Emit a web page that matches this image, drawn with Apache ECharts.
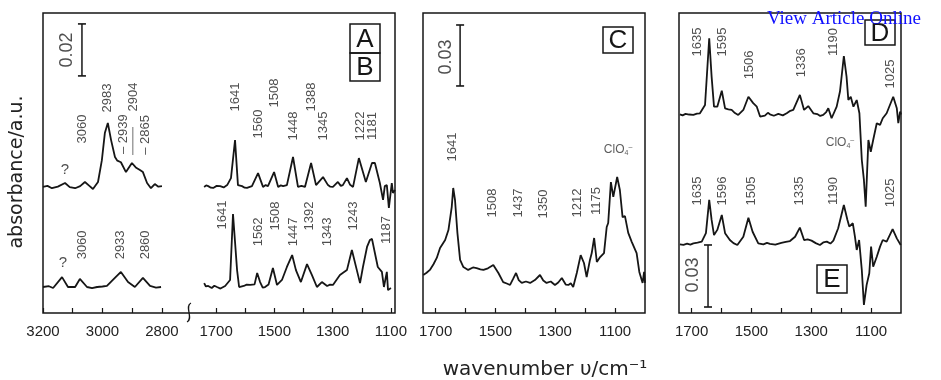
<!DOCTYPE html>
<html>
<head>
<meta charset="utf-8">
<script src="https://cdn.jsdelivr.net/npm/echarts@6/dist/echarts.min.js"></script>
<style>
html, body { margin: 0; padding: 0; background: #fff; }
#main { width: 941px; height: 380px; }
</style>
</head>
<body>
<div id="main"></div>
<script>
// spectra: [wavenumber / cm-1, absorbance / mA]
var specA_ch = [[3200,48.5],[3185,48.9],[3170,48],[3150,48.6],[3126,50],[3110,48.4],[3092,48],[3075,48.8],[3059,50.4],[3045,49],[3032,47.7],[3015,50.4],[3002,58.8],[2992,69.2],[2982,73.1],[2971,66.5],[2958,60],[2950,58.6],[2938,58],[2921,54.2],[2901,57.7],[2888,56],[2874,55],[2864,54.2],[2850,50],[2837,48],[2824,49.6],[2812,48.6],[2800,48.8]];
var specA_fp = [[1741,48.5],[1734,49.1],[1727,48.8],[1718,48.2],[1710,48.1],[1698,48.9],[1686,48.8],[1674,48.3],[1662,49.2],[1649,51.9],[1635,66.5],[1625,49.2],[1611,48.8],[1602,48.2],[1594,48.1],[1577,48.8],[1556,53.8],[1539,48.5],[1530,49.2],[1522,48.8],[1501,54.2],[1487,48.5],[1478,49.1],[1470,48.8],[1457,49.2],[1436,60],[1419,48.5],[1407,48.9],[1395,48.5],[1374,57.7],[1357,49.2],[1333,52.3],[1316,49.2],[1308,48.6],[1299,48.5],[1282,50.4],[1272,48.9],[1265,49.2],[1251,51.9],[1240,49.3],[1230,48.5],[1210,59.6],[1186,50.4],[1165,57.7],[1155,57.7],[1138,50],[1127,43.5],[1121,48.8],[1114,49.2],[1107,40.4],[1097,50],[1093,46.2],[1086,47.3]];
var specB_ch = [[3200,10],[3180,10.3],[3166,9.6],[3136,13.8],[3116,10],[3092,10],[3076,13.1],[3052,10],[3035,9.6],[3018,10],[3000,10.2],[2985,10.4],[2965,12.7],[2938,15.8],[2914,11.9],[2891,10],[2864,13.5],[2840,10.4],[2820,9.8],[2803,10]];
var specB_fp = [[1741,11.5],[1735,10.2],[1727,10.4],[1715,9.6],[1706,10.5],[1697,10],[1685,9.4],[1669,10.4],[1652,12.7],[1642,38.1],[1628,16.5],[1621,10],[1605,10.4],[1595,10.9],[1583,10.8],[1568,11],[1559,15.4],[1549,11.9],[1540,9.8],[1532,10],[1520,11],[1505,17.3],[1491,10.8],[1474,12.7],[1457,17.7],[1439,22.3],[1426,16.5],[1409,11.9],[1388,18.8],[1371,14.6],[1354,10],[1337,11.9],[1319,10.4],[1309,10.9],[1299,10.8],[1275,14.6],[1251,16.5],[1234,24.2],[1217,16.5],[1206,11.5],[1196,17.7],[1182,25.4],[1172,28.1],[1165,28.5],[1155,23.1],[1145,17.7],[1131,15.8],[1124,10],[1114,15.8],[1110,8.8],[1100,9.6]];
var specC = [[1741,18.7],[1730,19.8],[1719,21.2],[1707,24],[1696,27.1],[1685,32],[1668,35.9],[1657,40.8],[1646,52.1],[1641,61.5],[1635,55.6],[1627,39.4],[1618,26.1],[1607,22.6],[1591,21.2],[1575,22.4],[1563,22.1],[1550,21.5],[1540,21.2],[1525,22],[1507,23.6],[1490,19.7],[1474,15.2],[1462,14.5],[1451,13.8],[1440,17],[1431,19.7],[1422,16.2],[1412,14.8],[1398,15.5],[1384,14.8],[1368,16.2],[1351,18.7],[1340,16],[1329,14.8],[1315,15.5],[1301,13.8],[1290,15],[1278,17.2],[1265,14],[1256,13.8],[1248,14.6],[1240,12.8],[1228,19.7],[1215,28.5],[1204,24.6],[1195,17.7],[1184,26.1],[1178,29.5],[1170,36.9],[1161,25.1],[1150,27.5],[1137,29.5],[1128,42.3],[1123,44.3],[1114,64.4],[1106,57.1],[1093,66.9],[1084,60.5],[1075,47.2],[1067,47.7],[1056,39.4],[1044,34.9],[1028,29.5],[1019,20.2],[1008,14.8],[1003,20.2],[1000,14.8]];
var specD = [[1739,96.1],[1730,95.6],[1720,96.3],[1708,96],[1694,95.8],[1682,96.4],[1672,96.6],[1655,100.6],[1641,132.9],[1633,114.3],[1625,99.8],[1614,99.8],[1599,107.5],[1588,99],[1577,98.5],[1566,98.2],[1555,96.7],[1544,95.8],[1527,98.2],[1510,104.6],[1494,101.5],[1482,99.8],[1471,95],[1455,95.5],[1445,96.8],[1438,96.1],[1425,95.4],[1410,96.3],[1395,95.6],[1382,96.6],[1370,97.8],[1360,98.2],[1338,105.5],[1324,98.2],[1310,100.1],[1293,96.6],[1280,96.2],[1270,95.3],[1260,95.8],[1250,97.2],[1243,99],[1232,94.2],[1215,99.8],[1204,107.1],[1191,124.3],[1182,114.3],[1176,103],[1168,104.6],[1159,99.8],[1148,103],[1139,96.6],[1131,74],[1124,64.4],[1118,51.4],[1109,83.7],[1101,78],[1093,83.7],[1081,91.8],[1070,91],[1061,94.2],[1048,96.6],[1026,104.6],[1014,99],[1009,91.8],[1003,97.4],[1000,96]];
var specE = [[1739,33.2],[1727,33],[1715,33.5],[1704,33.1],[1694,33.7],[1680,34],[1666,34.5],[1652,38.6],[1641,54.7],[1633,45],[1625,37.7],[1614,40.2],[1599,47.4],[1588,38.6],[1572,35.3],[1560,33.8],[1547,32.9],[1527,36.9],[1510,46.1],[1496,39.3],[1477,33.7],[1460,33.2],[1448,33.9],[1438,33.4],[1420,33.1],[1400,33.9],[1385,34.4],[1371,34.8],[1354,36.9],[1338,41.3],[1324,35.3],[1312,35.6],[1299,35],[1285,33.8],[1271,32.9],[1260,34.1],[1248,34.5],[1236,33.6],[1226,35],[1210,41],[1191,52.2],[1179,45],[1173,41.8],[1161,43.4],[1154,36.9],[1148,30.5],[1140,35.3],[1131,20.8],[1124,3.9],[1115,13.5],[1106,19.2],[1100,32.1],[1093,22.4],[1081,27.2],[1070,32.1],[1061,35.3],[1048,34.5],[1028,40.6],[1014,36.1],[1001,32.9]];

// peak labels: [wavenumber, absorbance, text]
var labCh = [[3066,70.8,'3060'],[2982,82.7,'2983'],[2931,68.8,'\u2013 2939'],[2897,83.1,'2904'],[2857,68.5,'\u2013 2865'],
             [3069,26.2,'3060'],[2941,26.2,'2933'],[2857,26.2,'2860']];
var labQ = [[3126,55,'?'],[3133,19.2,'?']];
var labFp = [[1635,83.1,'1641'],[1556,72.7,'1560'],[1501,84.6,'1508'],[1436,71.9,'1448'],[1374,83.1,'1388'],[1333,71.9,'1345'],[1206,71.9,'1222'],[1162,71.9,'1181'],
             [1679,37.7,'1641'],[1556,31.2,'1562'],[1498,37.3,'1508'],[1436,31.2,'1447'],[1378,37.3,'1392'],[1319,31.2,'1343'],[1230,37.3,'1243'],[1114,31.9,'1187']];
var labC = [[1642,81.7,'1641'],[1511,54.1,'1508'],[1424,54.1,'1437'],[1341,53.6,'1350'],[1227,54.1,'1212'],[1164,55.1,'1175']];
var labDE = [[1682,131.1,'1635'],[1598,131.1,'1595'],[1508,120,'1506'],[1334,121,'1336'],[1227,131.1,'1190'],[1037,115.6,'1025'],
             [1682,59,'1635'],[1598,59,'1596'],[1501,59,'1505'],[1338,59,'1335'],[1227,59,'1190'],[1037,58.1,'1025']];
var labClO4 = [[1090,80.2,2],[1204,82.2,3]];   // [wn, A, panel]

// scale bars
var barA = [[3069,91.2],[3069,111.2]];
var barC = [[1618,111.7],[1618,141.7]];
var barE = [[1645,2.9],[1645,32.9]];
var barText = [[3119,101.2,'0.02',0],[1665,126,'0.03',2],[1695,18.4,'0.03',3]];

// ticks
var ticksCh = [3200,3100,3000,2900,2800], labelsCh = [3200,3000,2800];
var ticksFp = [1700,1600,1500,1400,1300,1200,1100], labelsFp = [1700,1500,1300,1100];

var FONT = '"Liberation Sans", Arial, sans-serif';
var INK = '#161616';

var chart = echarts.init(document.getElementById('main'));

function xAx(grid, min, max, ticks, labels) {
	return {
		type: 'value', gridIndex: grid, min: min, max: max, inverse: true,
		axisLine: { show: false },
		axisTick: { show: true, inside: true, length: 5, customValues: ticks, lineStyle: { color: INK, width: 1.2 } },
		axisLabel: {
			show: true, customValues: labels, margin: 11, color: '#222', fontFamily: FONT, fontSize: 15,
			formatter: function (v) { return String(v); }
		},
		splitLine: { show: false }
	};
}
function yAx(grid, max) {
	return { type: 'value', gridIndex: grid, min: 0, max: max, show: false };
}
function spec(axis, data) {
	return {
		type: 'line', xAxisIndex: axis, yAxisIndex: axis, data: data,
		symbol: 'none', lineStyle: { color: INK, width: 1.8 }, silent: true
	};
}
function bar(axis, data) {
	return {
		type: 'line', xAxisIndex: axis, yAxisIndex: axis, data: data,
		symbol: 'rect', symbolSize: [8, 1.6], showAllSymbol: true,
		itemStyle: { color: INK }, lineStyle: { color: INK, width: 1.5 }, silent: true
	};
}
function labels(axis, data, rotate, size) {
	return {
		type: 'scatter', xAxisIndex: axis, yAxisIndex: axis, symbolSize: 1,
		itemStyle: { color: 'rgba(0,0,0,0)' }, silent: true,
		data: data.map(function (d) { return { value: [d[0], d[1]], name: d[2] }; }),
		label: { show: true, position: 'inside', rotate: rotate, formatter: '{b}', color: '#222', fontFamily: FONT, fontSize: size }
	};
}

var series = [
	spec(1, specA_ch), spec(2, specA_fp), spec(1, specB_ch), spec(2, specB_fp),
	spec(3, specC), spec(4, specD), spec(4, specE),
	bar(1, barA), bar(3, barC), bar(4, barE),
	labels(1, labCh, 90, 13), labels(1, labQ, 0, 15), labels(2, labFp, 90, 13),
	labels(3, labC, 90, 13), labels(4, labDE, 90, 13),
	{
		type: 'line', xAxisIndex: 1, yAxisIndex: 1, data: [[2898, 60.8], [2898, 71.5]],
		symbol: 'none', lineStyle: { color: '#888', width: 1.2 }, silent: true
	}
];
barText.forEach(function (b) {
	series.push(labels(b[3] + 1, [[b[0], b[1], b[2]]], 90, 18));
});
labClO4.forEach(function (c) {
	series.push({
		type: 'scatter', xAxisIndex: c[2] + 1, yAxisIndex: c[2] + 1, symbolSize: 1,
		itemStyle: { color: 'rgba(0,0,0,0)' }, silent: true,
		data: [{ value: [c[0], c[1]] }],
		label: {
			show: true, position: 'inside', formatter: '{a|ClO}{s|4}{p|\u2013}',
			rich: {
				a: { fontFamily: FONT, fontSize: 12, color: '#333' },
				s: { fontFamily: FONT, fontSize: 7, color: '#333', verticalAlign: 'bottom', padding: [6, 0, 0, 0] },
				p: { fontFamily: FONT, fontSize: 7, color: '#333', verticalAlign: 'top', padding: [0, 0, 6, 0] }
			}
		}
	});
});

function box(x, y, w, h, letter) {
	return [
		{ type: 'rect', shape: { x: x, y: y, width: w, height: h }, style: { fill: 'none', stroke: INK, lineWidth: 1.5 } },
		{ type: 'text', style: { x: x + w / 2, y: y + h / 2 + 1, text: letter, align: 'center', verticalAlign: 'middle', font: '26px ' + FONT, fill: INK } }
	];
}

var graphics = [].concat(
	box(350, 24, 30, 29, 'A'), box(350, 53, 30, 28, 'B'),
	box(603, 27, 30, 26, 'C'), box(865, 20, 30, 25, 'D'), box(817, 265, 30, 28, 'E'),
	[
		{ type: 'bezierCurve', shape: { x1: 191, y1: 303, x2: 187, y2: 322, cpx1: 184, cpy1: 306, cpx2: 194, cpy2: 319 }, style: { stroke: INK, lineWidth: 1.3, fill: 'none' } },
		{ type: 'text', x: 17, y: 172, rotation: Math.PI / 2, style: { x: 0, y: 0, text: 'absorbance/a.u.', align: 'center', verticalAlign: 'middle', font: '19px "DejaVu Sans", sans-serif', fill: '#222' } },
		{ type: 'text', style: { x: 545, y: 370, text: 'wavenumber \u03c5/cm\u207b\u00b9', align: 'center', verticalAlign: 'middle', font: '20px "DejaVu Sans", sans-serif', fill: '#222' } },
		{ type: 'text', z: 100, style: { x: 767, y: 19, text: 'View Article Online', align: 'left', verticalAlign: 'middle', font: '19px "Liberation Serif", serif', fill: '#1010ff' } }
	]
);

chart.setOption({
	animation: false,
	backgroundColor: '#fff',
	grid: [
		{ left: 43, top: 13, width: 352, height: 300, show: true, borderColor: INK, borderWidth: 1.5 },
		{ left: 43, top: 13, width: 146, height: 300 },
		{ left: 189, top: 13, width: 206, height: 300 },
		{ left: 423, top: 13, width: 222, height: 300, show: true, borderColor: INK, borderWidth: 1.5 },
		{ left: 679, top: 13, width: 222, height: 300, show: true, borderColor: INK, borderWidth: 1.5 }
	],
	xAxis: [
		{ type: 'value', gridIndex: 0, show: false },
		xAx(1, 2709, 3200, ticksCh, labelsCh),
		xAx(2, 1086, 1793, ticksFp, labelsFp),
		xAx(3, 1000, 1742, ticksFp, labelsFp),
		xAx(4, 1000, 1742, ticksFp, labelsFp)
	],
	yAxis: [
		{ type: 'value', gridIndex: 0, show: false },
		yAx(1, 115.4), yAx(2, 115.4), yAx(3, 147.6), yAx(4, 145.1)
	],
	series: series,
	graphic: graphics
});
</script>
</body>
</html>
